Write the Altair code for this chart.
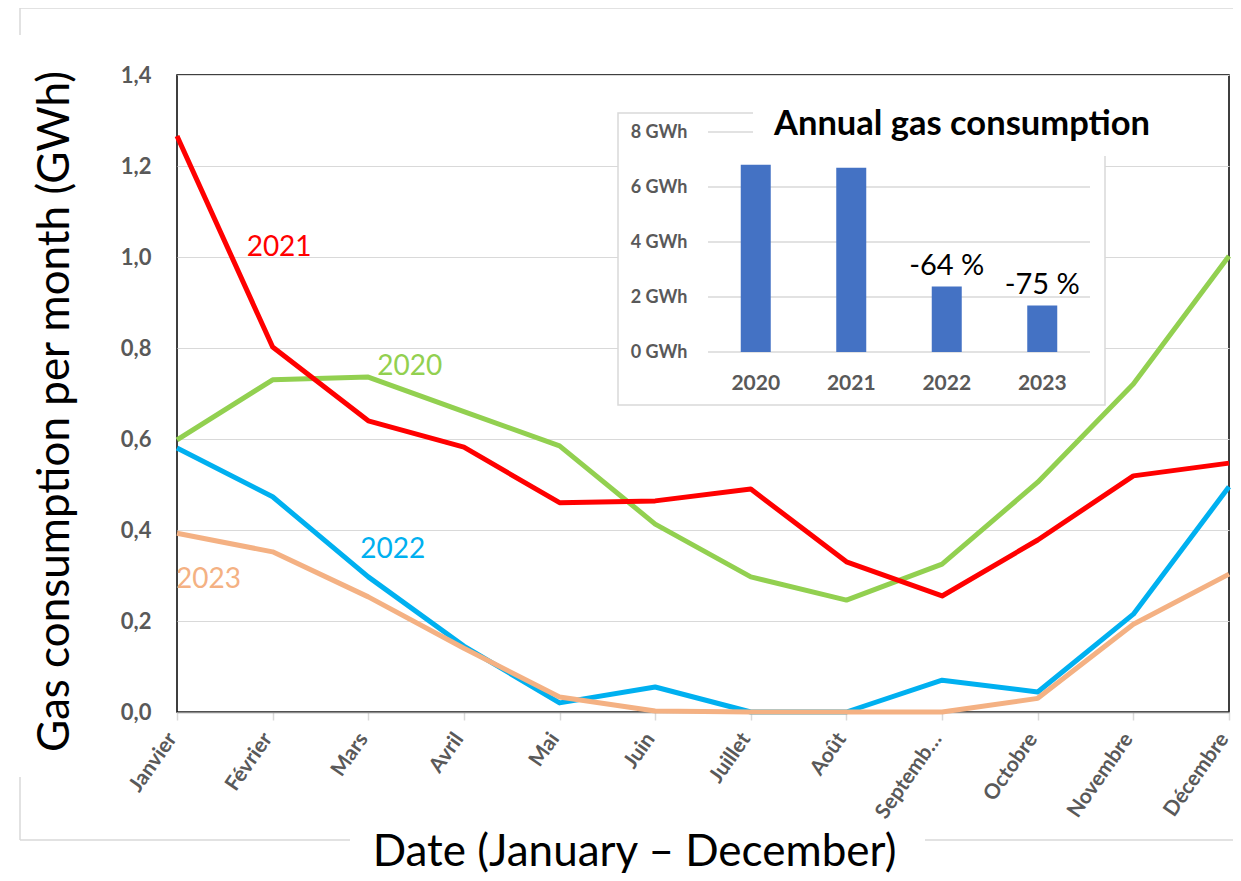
import altair as alt
import pandas as pd

# ---------------- data ----------------
months = ["Janvier", "Février", "Mars", "Avril", "Mai", "Juin", "Juillet",
          "Août", "Septemb…", "Octobre", "Novembre", "Décembre"]
years = ["2020", "2021", "2022", "2023"]
gas_2020 = [0.598, 0.730, 0.736, 0.660, 0.585, 0.413, 0.297, 0.246, 0.325, 0.505, 0.721, 1.002]
gas_2021 = [1.266, 0.802, 0.640, 0.582, 0.460, 0.464, 0.490, 0.330, 0.255, 0.378, 0.519, 0.547]
gas_2022 = [0.580, 0.473, 0.297, 0.145, 0.020, 0.055, 0.000, 0.000, 0.070, 0.044, 0.215, 0.495]
gas_2023 = [0.393, 0.352, 0.253, 0.140, 0.033, 0.002, 0.000, 0.000, 0.000, 0.030, 0.193, 0.303]
y_ticks = [0.0, 0.2, 0.4, 0.6, 0.8, 1.0, 1.2, 1.4]

annual_years = ["2020", "2021", "2022", "2023"]
annual_gwh = [6.81, 6.70, 2.38, 1.69]
annual_change = ["", "", "-64 %", "-75 %"]
inset_ticks = [0, 2, 4, 6, 8]
inset_title = "Annual gas consumption"

line_colors = ["#92D050", "#FF0000", "#00B0F0", "#F4B183"]

# ---------------- tables ----------------
series = {"2020": gas_2020, "2021": gas_2021, "2022": gas_2022, "2023": gas_2023}
rows = []
for yr in years:
    for m, v in zip(months, series[yr]):
        rows.append({"month": m, "year": yr, "value": v})
df = pd.DataFrame(rows)

annual = pd.DataFrame({"year": annual_years, "gwh": annual_gwh, "change": annual_change})
ticks_df = pd.DataFrame({"tick": inset_ticks})
one = pd.DataFrame({"k": [0]})

FONT = "Lato"
GRAY = "#595959"
LIGHT = "#d9d9d9"

# ---------------- main chart ----------------
x_main = alt.X(
    "month:O", sort=months,
    scale=alt.Scale(type="point", padding=0),
    axis=alt.Axis(
        title="Date (January – December)", titleFont=FONT, titleFontSize=44,
        titleFontWeight="normal", titleColor="black",
        titleX=457, titleY=153, titleAlign="center", titleBaseline="alphabetic",
        labelAngle=-55, labelAlign="right", labelBaseline="middle",
        labelFont=FONT, labelFontSize=21, labelFontWeight="bold", labelColor=GRAY,
        labelPadding=15, labelOffset=-5, tickSize=8, tickColor=LIGHT, tickWidth=1.5,
        domainColor="#8c8c8c", domainWidth=1.5, grid=False, orient="bottom",
    ),
)
y_main = alt.Y(
    "value:Q",
    scale=alt.Scale(domain=[0, 1.4], nice=False),
    axis=alt.Axis(
        title="Gas consumption per month (GWh)", titleFont=FONT, titleFontSize=44,
        titleFontWeight="normal", titleColor="black",
        titleX=-109, titleY=336, titleAlign="center", titleBaseline="alphabetic",
        titleAngle=-90,
        values=y_ticks, labelExpr="replace(format(datum.value, '.1f'), '.', ',')",
        labelFont=FONT, labelFontSize=22, labelFontWeight="bold", labelColor=GRAY,
        labelPadding=26, ticks=False, domain=False,
        grid=True, gridColor=LIGHT, gridWidth=1.2, orient="left",
    ),
)

base = alt.Chart(df)
lines = base.mark_line(strokeWidth=5, strokeJoin="round").encode(
    x=x_main, y=y_main,
    color=alt.Color("year:N", scale=alt.Scale(domain=years, range=line_colors), legend=None),
)

label_specs = [  # (year, anchor month, dx, dy)
    ("2021", "Février", -26, -99),
    ("2020", "Mars", 9, -10),
    ("2022", "Mars", -8, -27),
    ("2023", "Janvier", -1, 47),
]
labels = []
for yr, mon, dx, dy in label_specs:
    col = line_colors[years.index(yr)]
    labels.append(
        base.transform_filter((alt.datum.year == yr) & (alt.datum.month == mon))
        .mark_text(font=FONT, fontSize=28, align="left", baseline="middle",
                   dx=dx, dy=dy, color=col)
        .encode(x=alt.X("month:O", sort=months), y="value:Q", text="year:N")
    )

# light outer frame fragments (decoration of the original figure)
frame_segments = [  # (x, x2, y, y2) in plot pixels
    (-157, 1064, -67, -67),
    (-157, -157, -67, -40),
    (-157, -157, 702, 765),
    (-157, 173, 765, 765),
    (748, 1064, 765, 765),
]
outer = [
    alt.Chart(one).mark_rule(color=LIGHT, strokeWidth=1.5).encode(
        x=alt.value(a), x2=alt.value(b), y=alt.value(c), y2=alt.value(d))
    for a, b, c, d in frame_segments
]

main = alt.layer(*outer, lines, *labels)

# ---------------- inset bar chart ----------------
inset_x_scale = alt.Scale(type="band", domain=annual_years, range=[531, 913],
                          paddingInner=0, paddingOuter=0)
inset_x = alt.X(
    "year:N", scale=inset_x_scale,
    axis=alt.Axis(
        orient="bottom", offset=-360, title=None, domain=False, ticks=False,
        grid=False, labelAngle=0, labelFont=FONT, labelFontSize=21,
        labelFontWeight="bold", labelColor=GRAY, labelPadding=20,
        labelBaseline="top", zindex=1,
    ),
)
inset_y_scale = alt.Scale(domain=[0, 8], range=[277, 57], nice=False)

frame = alt.Chart(one).mark_rect(fill="white", stroke=LIGHT, strokeWidth=1.5).encode(
    x=alt.value(441), x2=alt.value(928), y=alt.value(38), y2=alt.value(330)
)
grid_rules = alt.Chart(ticks_df).mark_rule(color=LIGHT, strokeWidth=1.5).encode(
    x=alt.value(531), x2=alt.value(913),
    y=alt.Y("tick:Q", scale=inset_y_scale,
            axis=alt.Axis(orient="left", offset=-531, title=None, values=inset_ticks,
                          labelExpr="datum.value + ' GWh'", domain=False, ticks=False,
                          grid=False, labelFont=FONT, labelFontSize=18,
                          labelFontWeight="bold", labelColor=GRAY, labelPadding=21,
                          zindex=1)),
)
bars = alt.Chart(annual).mark_bar(size=30, color="#4472C4").encode(
    x=inset_x, y=alt.Y("gwh:Q", scale=inset_y_scale)
)
pct = alt.Chart(annual).mark_text(font=FONT, fontSize=29, baseline="alphabetic",
                                  dy=-12, color="black").encode(
    x=alt.X("year:N", scale=inset_x_scale),
    y=alt.Y("gwh:Q", scale=inset_y_scale), text="change:N"
)
title_box = alt.Chart(one).mark_rect(fill="white").encode(
    x=alt.value(576), x2=alt.value(985), y=alt.value(24), y2=alt.value(81)
)
title_txt = alt.Chart(one).mark_text(font=FONT, fontSize=34.5, fontWeight="bold",
                                     color="black", align="center", baseline="middle").encode(
    x=alt.value(785), y=alt.value(50), text=alt.value(inset_title)
)

inset = alt.layer(frame, grid_rules, bars, pct, title_box, title_txt)

chart = alt.layer(main, inset).resolve_scale(x="independent", y="independent").properties(
    width=1052, height=637,
    autosize=alt.AutoSizeParams(type="none"),
    padding={"left": 169, "top": 67, "right": 4, "bottom": 161},
).configure_view(stroke="black", strokeWidth=1.5)

chart.save("out.html", embed_options={"renderer": "svg", "actions": False})
